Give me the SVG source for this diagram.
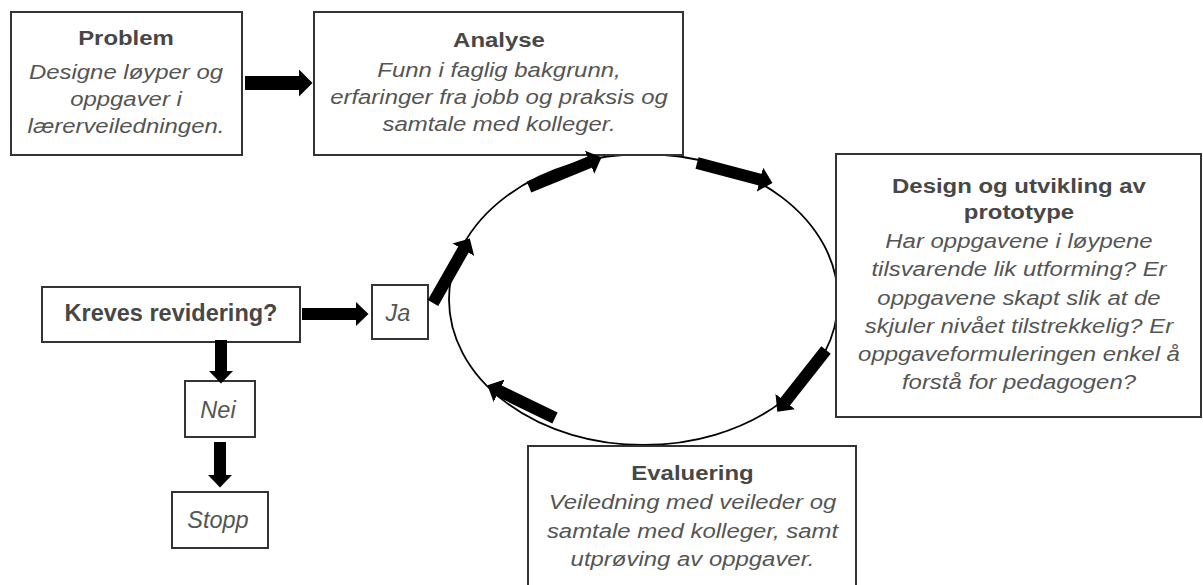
<svg xmlns="http://www.w3.org/2000/svg" width="1203" height="585" viewBox="0 0 1203 585">
  <style>
    .box { fill: #ffffff; stroke: #333333; stroke-width: 2; }
    .title { font-family: "Liberation Sans", Arial, sans-serif; font-weight: bold; fill: #474747; text-anchor: middle; }
    .body { font-family: "Liberation Sans", Arial, sans-serif; font-style: italic; fill: #555555; text-anchor: middle; }
    .big { font-size: 21px; }
    .small { font-size: 23.5px; }
    .flow { stroke: #000000; fill: none; stroke-linecap: butt; }
    .thick { stroke-width: 14; }
    .thin { stroke-width: 12; }
    .ring { fill: none; stroke: #000000; stroke-width: 1.8; }
  </style>
  <defs>
    <marker id="headL" markerUnits="userSpaceOnUse" viewBox="0 0 14 28" markerWidth="14" markerHeight="28" refX="0.5" refY="14" orient="auto">
      <path d="M0,0 L14,14 L0,28 z" fill="#000000"/>
    </marker>
    <marker id="headS" markerUnits="userSpaceOnUse" viewBox="0 0 13 25" markerWidth="13" markerHeight="25" refX="0.5" refY="12.5" orient="auto">
      <path d="M0,0 L13,12.5 L0,25 z" fill="#000000"/>
    </marker>
  </defs>

  <!-- cycle ring -->
  <ellipse class="ring" cx="643.5" cy="299.5" rx="194.5" ry="145.5"/>

  <g id="node-problem">
    <rect class="box" x="11" y="12" width="231" height="143"/>
    <g transform="matrix(1.14 0 0 1 -17.64 0)">
      <text class="title big" x="126" y="45">Problem</text>
      <text class="body big" x="126" y="79">Designe løyper og</text>
      <text class="body big" x="126" y="106">oppgaver i</text>
      <text class="body big" x="126" y="133">lærerveiledningen.</text>
    </g>
  </g>

  <g id="node-analyse">
    <rect class="box" x="314" y="12" width="369" height="143"/>
    <g transform="matrix(1.14 0 0 1 -69.86 0)">
      <text class="title big" x="499" y="47">Analyse</text>
      <text class="body big" x="499" y="77">Funn i faglig bakgrunn,</text>
      <text class="body big" x="499" y="104">erfaringer fra jobb og praksis og</text>
      <text class="body big" x="499" y="131">samtale med kolleger.</text>
    </g>
  </g>

  <g id="node-design">
    <rect class="box" x="836" y="154" width="365" height="263"/>
    <g transform="matrix(1.14 0 0 1 -142.66 0)">
      <text class="title big" x="1019" y="193">Design og utvikling av</text>
      <text class="title big" x="1019" y="219">prototype</text>
      <text class="body big" x="1019" y="248">Har oppgavene i løypene</text>
      <text class="body big" x="1019" y="276">tilsvarende lik utforming? Er</text>
      <text class="body big" x="1019" y="305">oppgavene skapt slik at de</text>
      <text class="body big" x="1019" y="333">skjuler nivået tilstrekkelig? Er</text>
      <text class="body big" x="1019" y="361">oppgaveformuleringen enkel å</text>
      <text class="body big" x="1019" y="389">forstå for pedagogen?</text>
    </g>
  </g>

  <g id="node-evaluering">
    <rect class="box" x="528" y="446" width="328" height="150"/>
    <g transform="matrix(1.14 0 0 1 -96.95 0)">
      <text class="title big" x="692.5" y="480">Evaluering</text>
      <text class="body big" x="692.5" y="509">Veiledning med veileder og</text>
      <text class="body big" x="692.5" y="538">samtale med kolleger, samt</text>
      <text class="body big" x="692.5" y="566">utprøving av oppgaver.</text>
    </g>
  </g>

  <g id="node-kreves">
    <rect class="box" x="42" y="287" width="258" height="55"/>
    <text class="title small" x="171" y="321">Kreves revidering?</text>
  </g>

  <g id="node-ja">
    <rect class="box" x="372" y="285" width="56" height="54"/>
    <text class="body small" x="398" y="321">Ja</text>
  </g>

  <g id="node-nei">
    <rect class="box" x="185" y="381" width="70" height="56"/>
    <text class="body small" x="218" y="418">Nei</text>
  </g>

  <g id="node-stopp">
    <rect class="box" x="172" y="492" width="96" height="56"/>
    <text class="body small" x="218" y="528">Stopp</text>
  </g>

  <g id="connectors">
    <line class="flow thick" x1="245" y1="83" x2="299" y2="83" marker-end="url(#headL)"/>
    <line class="flow thin" x1="302" y1="314" x2="356" y2="314" marker-end="url(#headS)"/>
    <line class="flow thin" x1="221" y1="340" x2="221" y2="371" marker-end="url(#headS)"/>
    <line class="flow thin" x1="220" y1="442" x2="220" y2="475" marker-end="url(#headS)"/>
    <!-- arrows running round the ring -->
    <line class="flow thin" x1="433" y1="303" x2="463.6" y2="249.3" marker-end="url(#headS)"/>
    <line class="flow thin" x1="529" y1="187" x2="590" y2="162" marker-end="url(#headS)"/>
    <line class="flow thin" x1="697" y1="163" x2="760.4" y2="179.7" marker-end="url(#headS)"/>
    <line class="flow thin" x1="826" y1="350" x2="785" y2="402" marker-end="url(#headS)"/>
    <line class="flow thin" x1="555" y1="418" x2="498.7" y2="390.7" marker-end="url(#headS)"/>
  </g>
</svg>
